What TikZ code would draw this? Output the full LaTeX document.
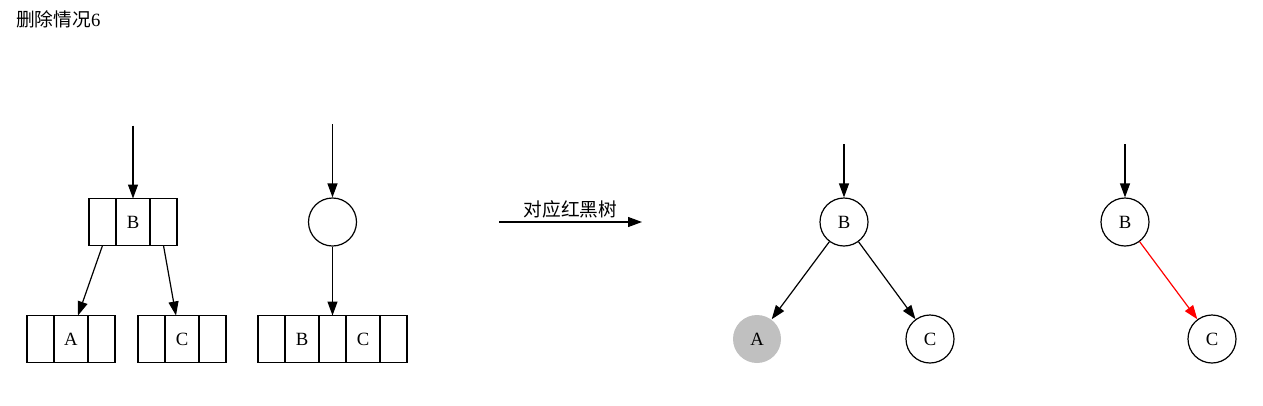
\documentclass[tikz,border=0pt]{standalone}
\usepackage{fontspec}
\setmainfont{Liberation Serif}
\newfontfamily\cjk{Noto Sans CJK SC}
\usepackage{xcolor}
\usepackage{tikz}
\usetikzlibrary{arrows.meta, calc, positioning}

\definecolor{nodegray}{HTML}{C0C0C0}

\tikzset{
  cell/.style={draw, line width=1.2pt, minimum height=47pt, inner sep=0pt, outer sep=0pt},
  side/.style={cell, minimum width=27pt},
  mid/.style={cell, minimum width=34pt},
  rb/.style={circle, draw, line width=1.2pt, minimum size=48pt, inner sep=0pt},
  edge/.style={->, line width=1.2pt},
}

\begin{document}
\begin{tikzpicture}[x=1pt, y=-1pt, >={Triangle[length=14pt, width=10pt]},
  every node/.style={font=\fontsize{18.7}{22}\selectfont}]

\useasboundingbox (0,0) rectangle (1263,405);

\node[anchor=west, inner sep=0pt] (title) at (16,19) {{\cjk 删除情况}6};

% 2-3 tree: node B with children A and C
\node[side, anchor=west] (bl) at (89,222) {};
\node[mid, right=0pt of bl] (bm) {B};
\node[side, right=0pt of bm] (br) {};

\node[side, anchor=west] (al) at (27,339) {};
\node[mid, right=0pt of al] (am) {A};
\node[side, right=0pt of am] (ar) {};

\node[side, anchor=west] (cl) at (138,339) {};
\node[mid, right=0pt of cl] (cm) {C};
\node[side, right=0pt of cm] (cr) {};

\coordinate (top1) at ($(bm.north)+(0,-73)$);
\draw[edge] (top1) -- (bm.north);
\draw[edge] (bl.south) -- ($(am.north)+(7,0)$);
\draw[edge] (br.south) -- ($(cm.north)+(-6,0)$);

% empty node over 3-node BC
\node[side, anchor=west] (dl) at (258,339) {};
\node[mid, right=0pt of dl] (db) {B};
\node[side, right=0pt of db] (dm) {};
\node[mid, right=0pt of dm] (dc) {C};
\node[side, right=0pt of dc] (dr) {};

\node[rb] (e) at (dm.center |- 0,222) {};

\coordinate (top2) at ($(e.north)+(0,-73)$);
\draw[edge] (top2) -- (e.north);
\draw[edge] (e.south) -- (dm.north);

% transform arrow
\coordinate (ls) at (499,222);
\coordinate (le) at (642,222);
\draw[edge] (ls) -- node[above, inner sep=3pt] {\cjk 对应红黑树} (le);

% red-black tree before
\node[rb] (rB) at (844,222) {B};
\node[rb, draw=none, fill=nodegray] (rA) at (757,339) {A};
\node[rb] (rC) at (930,339) {C};

\coordinate (top3) at (844,144);
\draw[edge] (top3) -- (rB.north);
\draw[edge] (rB) -- (rA);
\draw[edge] (rB) -- (rC);

% red-black tree after
\node[rb] (fB) at (1125,222) {B};
\node[rb] (fC) at (1212,339) {C};

\coordinate (top4) at (1125,144);
\draw[edge] (top4) -- (fB.north);
\draw[edge, red] (fB) -- (fC);
\end{tikzpicture}
\end{document}
